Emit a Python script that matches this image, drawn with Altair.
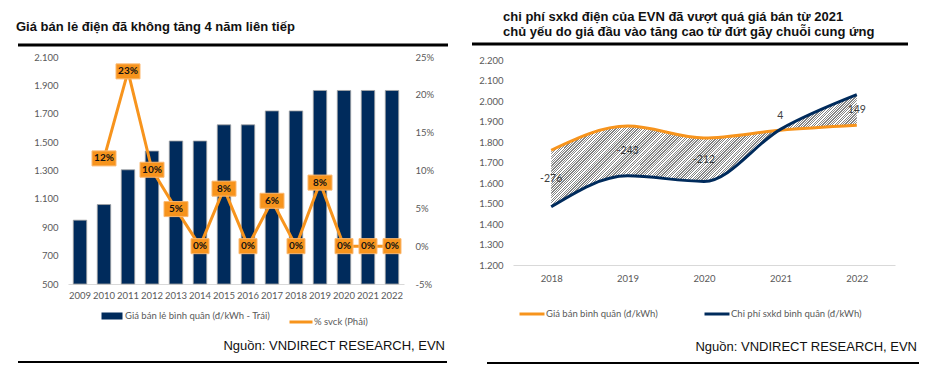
import altair as alt
import pandas as pd

# ---------------- data: left chart ----------------
years_left = [2009, 2010, 2011, 2012, 2013, 2014, 2015, 2016, 2017, 2018, 2019, 2020, 2021, 2022]
retail_price = [950, 1060, 1305, 1437, 1508, 1508, 1622, 1622, 1720, 1720, 1864, 1864, 1864, 1864]
yoy_years = [2010, 2011, 2012, 2013, 2014, 2015, 2016, 2017, 2018, 2019, 2020, 2021, 2022]
yoy_pct = [11.6, 23.1, 10.1, 4.9, 0.0, 7.6, 0.0, 6.0, 0.0, 8.4, 0.0, 0.0, 0.0]
left_title = ["Giá bán lẻ điện đã không tăng 4 năm liên tiếp"]
left_legend = ["Giá bán lẻ bình quân (đ/kWh - Trái)", "% svck (Phải)"]
left_ticks = [500, 700, 900, 1100, 1300, 1500, 1700, 1900, 2100]
pct_ticks = [-5, 0, 5, 10, 15, 20, 25]

# ---------------- data: right chart ----------------
years_right = [2018, 2019, 2020, 2021, 2022]
avg_price = [1760, 1878, 1820, 1858, 1882]
avg_cost = [1484, 1635, 1608, 1862, 2031]
right_title = ["chi phí sxkd điện của EVN đã vượt quá giá bán từ 2021",
               "chủ yếu do giá đầu vào tăng cao từ đứt gãy chuỗi cung ứng"]
right_legend = ["Giá bán bình quân (đ/kWh)", "Chi phí sxkd bình quân (đ/kWh)"]
right_ticks = [1200, 1300, 1400, 1500, 1600, 1700, 1800, 1900, 2000, 2100, 2200]
source_text = ["Nguồn: VNDIRECT RESEARCH, EVN"]

# ---------------- styling ----------------
NAVY = "#002B5C"
ORANGE = "#F7941D"
GREY = "#595959"
AXFONT = "Lato"
TFONT = "Liberation Sans"
DOT_FMT = "replace(format(datum.value, ','), ',', '.')"

df_left = pd.DataFrame({"year": years_left, "price": retail_price})
df_left["series"] = left_legend[0]
df_yoy = pd.DataFrame({"year": yoy_years, "pct": yoy_pct})
df_yoy["label"] = [f"{round(v)}%" for v in yoy_pct]
df_yoy["series"] = left_legend[1]
df_right = pd.DataFrame({"year": years_right, "price": avg_price, "cost": avg_cost})
df_right["mid"] = (df_right["price"] + df_right["cost"]) / 2
df_right["label"] = (df_right["cost"] - df_right["price"]).astype(str)
df_right["s_price"] = right_legend[0]
df_right["s_cost"] = right_legend[1]

one = pd.DataFrame({"k": [0]})


def txt(text, x, y, size, weight="normal", align="left", font=TFONT, color="#111111"):
    return alt.Chart(pd.DataFrame({"t": [text]})).mark_text(
        align=align, baseline="alphabetic", fontSize=size, fontWeight=weight,
        font=font, color=color
    ).encode(text="t:N", x=alt.value(x), y=alt.value(y))


def hrule(x1, x2, y, w, color="black", opacity=1):
    return alt.Chart(one).mark_rule(color=color, strokeWidth=w, opacity=opacity).encode(
        x=alt.value(x1), x2=alt.value(x2), y=alt.value(y))


# ---------------- left chart ----------------
x_left = alt.X("year:O", title=None, scale=alt.Scale(paddingInner=0, paddingOuter=0),
               axis=alt.Axis(labelAngle=0, ticks=False, domainColor="#d9d9d9", labelPadding=6,
                             labelColor=GREY, labelFont=AXFONT, labelFontSize=9.5))

bars = alt.Chart(df_left).mark_bar(width=alt.RelativeBandSize(0.56), stroke="#a6a6a6",
                                   strokeWidth=0.8).encode(
    x=x_left,
    y=alt.Y("price:Q", title=None, scale=alt.Scale(domain=[500, 2100], nice=False, zero=False),
            axis=alt.Axis(values=left_ticks, labelExpr=DOT_FMT, domain=False, ticks=False, grid=False,
                          labelPadding=10, labelColor=GREY, labelFont=AXFONT, labelFontSize=9.5)),
    y2=alt.datum(500),
    fill=alt.Fill("series:N", scale=alt.Scale(domain=[left_legend[0]], range=[NAVY]),
                  legend=alt.Legend(orient="none", legendX=37, legendY=252, title=None,
                                    symbolType="M-1.5,-0.5H1.5V0.5H-1.5Z", symbolSize=196,
                                    symbolStrokeWidth=0, labelOffset=6,
                                    labelFont=AXFONT, labelFontSize=9.5, labelColor=GREY)),
)

yoy_y = alt.Y("pct:Q", title=None, scale=alt.Scale(domain=[-5, 25], nice=False, zero=False),
              axis=alt.Axis(orient="right", values=pct_ticks, labelExpr="datum.value + '%'",
                            domain=False, ticks=False, grid=False, labelPadding=11,
                            labelColor=GREY, labelFont=AXFONT, labelFontSize=9.5))

line = alt.Chart(df_yoy).mark_line(strokeWidth=3).encode(
    x=x_left, y=yoy_y,
    stroke=alt.Stroke("series:N", scale=alt.Scale(domain=[left_legend[1]], range=[ORANGE]),
                      legend=alt.Legend(orient="none", legendX=220, legendY=252, title=None,
                                        symbolType="stroke", symbolSize=529, symbolStrokeWidth=3,
                                        labelOffset=0,
                                        labelFont=AXFONT, labelFontSize=9.5, labelColor=GREY)),
)

boxes_wide = alt.Chart(df_yoy).transform_filter("datum.label != '0%'").mark_point(
    shape="M-1.2,-0.75H1.2V0.75H-1.2Z", size=400, filled=True, fill=ORANGE,
    stroke="#FBB870", strokeWidth=1, opacity=1).encode(x=x_left, y=yoy_y)
boxes_narrow = alt.Chart(df_yoy).transform_filter("datum.label == '0%'").mark_point(
    shape="M-0.9,-0.75H0.9V0.75H-0.9Z", size=400, filled=True, fill=ORANGE,
    stroke="#FBB870", strokeWidth=1, opacity=1).encode(x=x_left, y=yoy_y)
box_text = alt.Chart(df_yoy).mark_text(fontWeight="bold", fontSize=10, font=AXFONT,
                                       color="#111111", baseline="middle").encode(
    x=x_left, y=yoy_y, text="label:N")

left = alt.layer(
    bars,
    alt.layer(line, boxes_wide, boxes_narrow, box_text),
    hrule(-60, -58, -49, 1, color="white", opacity=0),
    txt(left_title[0], -52, -26.5, 13, weight="bold"),
    hrule(-50, 380, -12, 3),
    hrule(-50, 379, 305, 2),
    txt(source_text[0], 377, 293, 13, align="right"),
).resolve_scale(y="independent").properties(width=336, height=227)

# ---------------- right chart ----------------
N_STRIPES = 170
stops = []
for i in range(N_STRIPES):
    a = i / N_STRIPES
    b = (i + 0.5) / N_STRIPES
    c = (i + 1) / N_STRIPES
    stops += [{"offset": a, "color": "#858585"}, {"offset": b, "color": "#858585"},
              {"offset": b, "color": "#ffffff"}, {"offset": c, "color": "#ffffff"}]
HATCH = {"gradient": "linear", "x1": 0, "y1": 0, "x2": 1.2, "y2": 0.44, "stops": stops}

x_right = alt.X("year:O", title=None, scale=alt.Scale(paddingInner=0, paddingOuter=0),
                axis=alt.Axis(labelAngle=0, ticks=False, domainColor="#d9d9d9", labelPadding=8,
                              labelColor=GREY, labelFont=AXFONT, labelFontSize=9.5))
y_scale_r = alt.Scale(domain=[1200, 2215], nice=False, zero=False)
y_axis_r = alt.Axis(values=right_ticks, labelExpr=DOT_FMT, domain=False, ticks=False, grid=False,
                    labelPadding=10, labelColor=GREY, labelFont=AXFONT, labelFontSize=9.5)
stroke_scale_r = alt.Scale(domain=right_legend, range=[ORANGE, NAVY])
legend_r = alt.Legend(orient="none", legendX=5, legendY=243, title=None, direction="horizontal",
                      symbolType="stroke", symbolSize=625, symbolStrokeWidth=3, labelOffset=0,
                      columnPadding=40, labelFont=AXFONT, labelFontSize=9.5, labelColor=GREY)

area = alt.Chart(df_right).mark_area(interpolate="monotone", fill=HATCH, opacity=1).encode(
    x=x_right, y=alt.Y("cost:Q", title=None, scale=y_scale_r, axis=y_axis_r), y2="price:Q")
line_price = alt.Chart(df_right).mark_line(interpolate="monotone", strokeWidth=3).encode(
    x=x_right, y=alt.Y("price:Q", title=None, scale=y_scale_r, axis=y_axis_r),
    stroke=alt.Stroke("s_price:N", scale=stroke_scale_r, legend=legend_r))
line_cost = alt.Chart(df_right).mark_line(interpolate="monotone", strokeWidth=3).encode(
    x=x_right, y=alt.Y("cost:Q", title=None, scale=y_scale_r, axis=y_axis_r),
    stroke=alt.Stroke("s_cost:N", scale=stroke_scale_r, legend=legend_r))
gap_text = alt.Chart(df_right).transform_filter("datum.year != 2021").mark_text(
    fontSize=10.5, font=AXFONT, color="#404040", baseline="middle").encode(
    x=x_right, y=alt.Y("mid:Q", title=None, scale=y_scale_r, axis=y_axis_r), text="label:N")
gap_text_up = alt.Chart(df_right).transform_filter("datum.year == 2021").mark_text(
    fontSize=10.5, font=AXFONT, color="#404040", baseline="middle", dy=-14).encode(
    x=x_right, y=alt.Y("mid:Q", title=None, scale=y_scale_r, axis=y_axis_r), text="label:N")

right = alt.layer(
    area, line_price, line_cost, gap_text, gap_text_up,
    txt(right_title[0], -10, -36, 13, weight="bold"),
    txt(right_title[1], -10, -21, 13, weight="bold"),
    hrule(-41, 395, -13, 3),
    hrule(-26, 406, 306, 2),
    txt(source_text[0], 404, 294, 13, align="right"),
).properties(width=382, height=208)

chart = alt.hconcat(left, right, spacing=109, bounds="flush").resolve_scale(
    fill="independent", stroke="independent"
).resolve_legend(fill="independent", stroke="independent").properties(
    padding=0
).configure_view(stroke=None)

chart.save("out.html", embed_options={"renderer": "svg", "actions": False})
